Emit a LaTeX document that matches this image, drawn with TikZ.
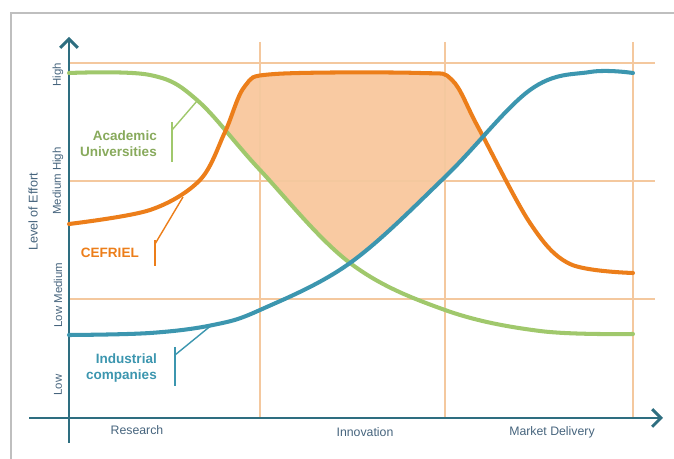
\documentclass[tikz,border=0pt]{standalone}
\usepackage{fontspec}
\setmainfont{Liberation Sans}
\usetikzlibrary{arrows.meta}

\definecolor{axisteal}{RGB}{46,110,128}
\definecolor{indblue}{RGB}{60,150,175}
\definecolor{acgreen}{RGB}{160,200,108}
\definecolor{cforange}{RGB}{236,126,26}
\definecolor{cffill}{RGB}{249,202,162}
\definecolor{gridorange}{RGB}{244,200,158}
\definecolor{labelgray}{RGB}{70,100,125}

\tikzset{
    axisline/.style={axisteal, line width=1.7pt, -{Straight Barb[length=5pt,width=10pt,line width=1.7pt]}},
    gridline/.style={gridorange, line width=0.75pt},
    curve/.style={line width=2.3pt, line cap=round},
    leader/.style={line width=0.8pt},
    effort/.style={rotate=90, labelgray, font=\fontsize{6.5}{7}\selectfont},
    phase/.style={labelgray, font=\fontsize{7}{8}\selectfont},
    actor/.style={align=right, font=\fontsize{7.7}{9}\selectfont\bfseries}
}

\newcommand{\acpath}{plot[smooth, tension=0.6] coordinates {(69,73) (150,75) (197,100) (260,170) (350,263) (445,310) (540,331) (633,334)}}
\newcommand{\cfpath}{plot[smooth, tension=0.55] coordinates {(69,224) (150,210) (200,180) (225,132) (245,86) (275,74) (420,73) (452,80) (478,127) (530,223) (570,264) (633,273)}}
\newcommand{\indpath}{plot[smooth, tension=0.6] coordinates {(69,335) (150,333) (213,325) (260,310) (350,263) (445,177) (530,90) (590,72) (633,73)}}

\begin{document}
\begin{tikzpicture}[x=0.02cm, y=-0.02cm]
    \useasboundingbox (0,0) rectangle (674,459);

    % frame
    \draw[black!25, line width=0.8pt] (11,459) -- (11,13) -- (674,13);

    % shaded overlap
    \begin{scope}
        \clip \cfpath -- (633,420) -- (69,420) -- cycle;
        \clip \acpath -- (633,30) -- (69,30) -- cycle;
        \clip \indpath -- (633,30) -- (69,30) -- cycle;
        \fill[cffill] (60,30) rectangle (640,420);
    \end{scope}

    % grid
    \foreach \y in {63,181,299}
        \draw[gridline] (69,\y) -- (655,\y);
    \foreach \x in {260,445,633}
        \draw[gridline] (\x,42) -- (\x,418);

    % axes
    \coordinate (o1) at (69,443);
    \coordinate (y1) at (69,37);
    \coordinate (o2) at (29,418);
    \coordinate (x1) at (663,418);
    \draw[axisline] (o1) -- (y1);
    \draw[axisline] (o2) -- (x1);

    % curves
    \draw[curve, acgreen] \acpath;
    \draw[curve, cforange] \cfpath;
    \draw[curve, indblue] \indpath;

    % axis labels
    \node[effort] at (58,75)  (high)   {High};
    \node[effort] at (58,181) (mhigh)  {Medium High};
    \node[effort] at (58,295) (lmed)   {Low Medium};
    \node[effort] at (58,385) (low)    {Low};
    \node[effort, font=\fontsize{7.2}{8}\selectfont] at (33,212) (effort) {Level of Effort};

    \node[phase] at (137,430) (research) {Research};
    \node[phase] at (365,432) (innov)    {Innovation};
    \node[phase] at (552,432) (market)   {Market Delivery};

    % actor labels
    \node[actor, acgreen!85!black, anchor=east] at (163,144) (ac) {Academic\\Universities};
    \node[actor, cforange, anchor=east] at (145,253) (cf) {CEFRIEL};
    \node[actor, indblue, anchor=east] at (163,368) (ind) {Industrial\\companies};

    \coordinate (acT) at (172,122);
    \coordinate (acB) at (172,162);
    \coordinate (acL) at (172,130);
    \coordinate (acP) at (197,101);
    \draw[leader, acgreen] (acT) -- (acB);
    \draw[leader, acgreen] (acL) -- (acP);

    \coordinate (cfT) at (155,240);
    \coordinate (cfB) at (155,266);
    \coordinate (cfL) at (155,244);
    \coordinate (cfP) at (183,197);
    \draw[leader, cforange] (cfT) -- (cfB);
    \draw[leader, cforange] (cfL) -- (cfP);

    \coordinate (indT) at (175,347);
    \coordinate (indB) at (175,386);
    \coordinate (indL) at (175,355);
    \coordinate (indP) at (213,324);
    \draw[leader, indblue] (indT) -- (indB);
    \draw[leader, indblue] (indL) -- (indP);
\end{tikzpicture}
\end{document}
